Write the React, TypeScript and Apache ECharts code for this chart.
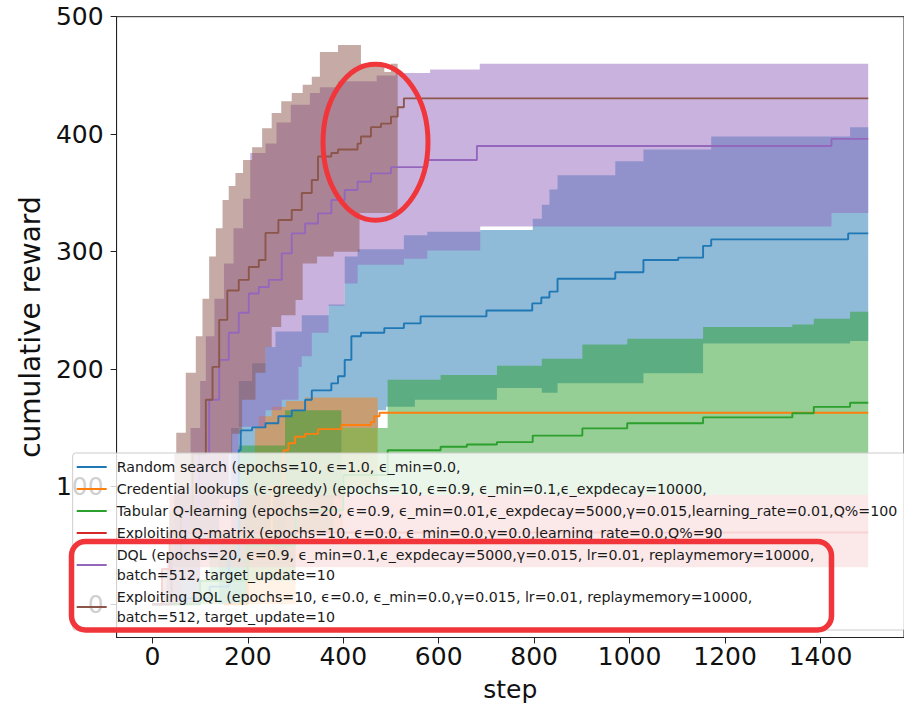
import React, { useEffect, useRef } from "react";
import * as echarts from "echarts";

// ---------- data ----------
const X_TICKS = [0, 200, 400, 600, 800, 1000, 1200, 1400];
const Y_TICKS = [0, 100, 200, 300, 400, 500];

const LABELS = [
  "Random search (epochs=10, ϵ=1.0, ϵ_min=0.0,",
  "Credential lookups (ϵ-greedy) (epochs=10, ϵ=0.9, ϵ_min=0.1,ϵ_expdecay=10000,",
  "Tabular Q-learning (epochs=20, ϵ=0.9, ϵ_min=0.01,ϵ_expdecay=5000,γ=0.015,learning_rate=0.01,Q%=100",
  "Exploiting Q-matrix (epochs=10, ϵ=0.0, ϵ_min=0.0,γ=0.0,learning_rate=0.0,Q%=90",
  "DQL (epochs=20, ϵ=0.9, ϵ_min=0.1,ϵ_expdecay=5000,γ=0.015, lr=0.01, replaymemory=10000,\nbatch=512, target_update=10",
  "Exploiting DQL (epochs=10, ϵ=0.0, ϵ_min=0.0,γ=0.015, lr=0.01, replaymemory=10000,\nbatch=512, target_update=10",
];

// Random search
const randomMean = [[0, 0], [60, 5], [120, 15], [160, 40], [181, 131], [185, 148], [209, 150.5], [237, 154], [264, 160], [292, 165], [320, 174], [334, 182], [375, 188], [389, 194], [403, 208], [417, 228], [437, 231], [486, 235], [527, 239], [562, 245], [700, 250], [796, 256], [815, 261], [832, 266], [849, 277], [970, 282.5], [1029, 293], [1102, 295], [1154, 305], [1171, 310.5], [1458, 315.6], [1500, 315.6]];
const randomUpper = [[140, 60], [165, 150], [181, 190], [209, 205], [237, 219], [258, 232], [313, 246], [369, 255], [403, 296], [430, 302], [527, 314], [576, 317], [687, 318.5], [797, 328], [816, 340], [832, 353], [849, 365], [970, 377], [1029, 387], [1171, 398], [1462, 406], [1500, 406]];
const randomLower = [[140, 0], [200, 40], [280, 90], [396, 150], [473, 165], [490, 168], [550, 174], [722, 184], [816, 180], [849, 188], [1029, 196.5], [1154, 222], [1462, 224], [1500, 224]];

// Credential lookups
const credMean = [[150, 0], [200, 40], [250, 100], [275, 131], [285, 137], [299, 142.5], [320, 145], [347, 149], [396, 152.5], [458, 155], [465, 160], [476, 163], [1500, 163]];
const credUpper = [[195, 120], [215, 150], [223, 160], [250, 168], [280, 173], [320, 176], [472, 177], [472, 177]];
const credLower = [[195, 0], [300, 60], [400, 100], [472, 100]];

// Tabular Q-learning
const tabMean = [[0, 0], [100, 20], [200, 50], [300, 80], [400, 110], [493, 131], [604, 134], [659, 136], [722, 138], [797, 143.5], [901, 149.7], [995, 154], [1154, 159], [1341, 162.5], [1386, 168], [1462, 171.5], [1500, 171.5]];
const tabUpper = [[60, 20], [120, 60], [181, 135], [278, 165], [396, 150], [493, 191], [604, 195], [722, 203], [816, 209], [901, 221], [995, 226], [1154, 236], [1341, 238], [1386, 243], [1462, 249], [1500, 249]];
const tabLower = [[60, 0], [200, 20], [300, 60], [380, 93], [1500, 93]];

// Exploiting Q-matrix
const qmatMean = [[0, 0], [20, 30], [36, 61], [1500, 61]];
const qmatUpper = [[36, 93], [1500, 93]];
const qmatLower = [[36, 31.5], [1500, 31.5]];

// DQL
const dqlMean = [[0, 0], [40, 40], [70, 80], [98, 128], [119, 174], [140, 208], [160, 231], [181, 248], [202, 264.5], [223, 270], [244, 276], [271, 298.6], [292, 315.6], [320, 324], [347, 332.6], [375, 344], [403, 352.5], [430, 359.6], [458, 366.7], [500, 372], [576, 378], [680, 390], [1423, 396], [1500, 396]];
const dqlUpper = [[30, 40], [46, 100], [80, 150], [100, 190], [112, 228], [130, 260], [150, 290], [170, 320], [190, 345], [205, 384], [237, 392], [260, 410], [290, 425], [330, 435], [351, 440], [389, 445], [470, 450], [510, 452], [582, 455], [686, 460], [1500, 460]];
const dqlLower = [[30, 0], [100, 40], [140, 90], [181, 151], [237, 165], [271, 174], [306, 202], [313, 211], [334, 231], [369, 254], [403, 273], [430, 289], [527, 294], [576, 301], [687, 321.5], [1423, 333], [1500, 333]];

// Exploiting DQL
const xdqlMean = [[0, 0], [40, 40], [60, 80], [84, 128], [112, 174], [126, 202], [140, 242], [157, 267], [181, 276], [202, 287], [223, 293], [237, 316], [264, 327], [292, 335.5], [313, 350], [334, 361], [347, 381], [375, 384], [389, 387], [430, 392], [437, 398], [458, 406], [479, 409], [500, 415], [514, 423], [527, 430.5], [1500, 430.5]];
const xdqlUpper = [[20, 30], [35, 80], [46, 128], [50, 146], [70, 197], [91, 228], [105, 260], [119, 296], [133, 320], [147, 344], [160, 356], [174, 367], [190, 378], [209, 389], [230, 405], [250, 418], [270, 428], [292, 435], [315, 442], [334, 449], [351, 470], [389, 476], [437, 460], [486, 453], [500, 460], [514, 460]];
const xdqlLower = [[20, 0], [60, 20], [100, 50], [140, 90], [160, 128], [167, 145], [188, 174], [216, 197], [237, 219], [250, 236], [270, 246], [300, 259], [315, 290], [345, 296], [380, 300], [434, 333], [514, 333]];

const COLORS = ["#1f77b4", "#ff7f0e", "#2ca02c", "#d62728", "#9467bd", "#8c564b"];
const MEANS = [randomMean, credMean, tabMean, qmatMean, dqlMean, xdqlMean];
const UPPERS = [randomUpper, credUpper, tabUpper, qmatUpper, dqlUpper, xdqlUpper];
const LOWERS = [randomLower, credLower, tabLower, qmatLower, dqlLower, xdqlLower];

const FONT = "DejaVu Sans";

function bandSeries(upper: number[][], lower: number[][], color: string, idx: number) {
  return {
    type: "custom",
    name: "band" + idx,
    coordinateSystem: "cartesian2d",
    silent: true,
    z: 2,
    clip: true,
    data: [[upper[0][0], lower[0][1], upper[0][1]]],
    encode: { x: 0, y: [1, 2] },
    renderItem: (_params: any, api: any) => {
      const pts: number[][] = [];
      for (let i = 0; i < upper.length - 1; i++) {
        pts.push(api.coord([upper[i][0], upper[i][1]]));
        pts.push(api.coord([upper[i + 1][0], upper[i][1]]));
      }
      for (let i = lower.length - 2; i >= 0; i--) {
        pts.push(api.coord([lower[i + 1][0], lower[i][1]]));
        pts.push(api.coord([lower[i][0], lower[i][1]]));
      }
      return {
        type: "polygon",
        shape: { points: pts },
        style: { fill: color, opacity: 0.5 },
      };
    },
  };
}

export default function App() {
  const ref = useRef<HTMLDivElement>(null);
  useEffect(() => {
    if (!ref.current) return;
    const chart = echarts.init(ref.current, null, { renderer: "svg" });
    const bands = COLORS.map((c, i) => bandSeries(UPPERS[i], LOWERS[i], c, i));
    const lines = COLORS.map((c, i) => ({
      type: "line",
      name: LABELS[i],
      data: MEANS[i],
      step: "end",
      showSymbol: false,
      symbol: "none",
      silent: true,
      z: 3,
      lineStyle: { width: 1.9, color: c },
      itemStyle: { color: c },
    }));
    chart.setOption({
      animation: false,
      backgroundColor: "#ffffff",
      grid: {
        show: true,
        left: 116.6,
        top: 16.7,
        right: -7.1,
        bottom: 70.5,
        borderColor: "#222",
        borderWidth: 1,
        backgroundColor: "transparent",
      },
      xAxis: {
        type: "value",
        min: -75,
        max: 1575,
        name: "step",
        nameLocation: "middle",
        nameGap: 39,
        nameTextStyle: { fontFamily: FONT, fontSize: 25, color: "#111" },
        axisLine: { show: true, onZero: false, lineStyle: { color: "#222", width: 1 } },
        axisTick: { show: true, length: 6, customValues: X_TICKS, lineStyle: { color: "#222" } },
        axisLabel: {
          customValues: X_TICKS,
          fontFamily: FONT,
          fontSize: 25,
          color: "#111",
          margin: 6,
          formatter: (v: number) => String(v),
        },
        splitLine: { show: false },
      },
      yAxis: {
        type: "value",
        min: -28.3,
        max: 500,
        name: "cumulative reward",
        nameLocation: "middle",
        nameGap: 72,
        nameRotate: 90,
        nameTextStyle: { fontFamily: FONT, fontSize: 28, color: "#111" },
        axisLine: { show: true, onZero: false, lineStyle: { color: "#222", width: 1 } },
        axisTick: { show: true, length: 6, customValues: Y_TICKS, lineStyle: { color: "#222" } },
        axisLabel: {
          customValues: Y_TICKS,
          fontFamily: FONT,
          fontSize: 25,
          color: "#111",
          margin: 13,
          formatter: (v: number) => String(v),
        },
        splitLine: { show: false },
      },
      legend: {
        data: LABELS,
        orient: "vertical",
        left: 72.7,
        top: 453,
        padding: [4, 8, 3, 4],
        itemGap: 2,
        itemWidth: 30,
        itemHeight: 2,
        icon: "rect",
        backgroundColor: "rgba(255,255,255,0.8)",
        borderColor: "#cccccc",
        borderWidth: 1,
        borderRadius: 3,
        selectedMode: false,
        textStyle: {
          fontFamily: FONT,
          fontSize: 14.2,
          lineHeight: 20,
          color: "#1a1a1a",
          padding: [0, 0, 0, 5],
        },
      },
      graphic: [
        {
          type: "ellipse",
          z: 100,
          shape: { cx: 375.5, cy: 142.3, rx: 52.5, ry: 78 },
          style: { fill: "transparent", stroke: "#f0363a", lineWidth: 5 },
        },
        {
          type: "rect",
          z: 100,
          shape: { x: 71.5, y: 541.5, width: 760, height: 88.5, r: 14 },
          style: { fill: "transparent", stroke: "#f0363a", lineWidth: 5.5 },
        },
      ],
      series: [...bands, ...lines],
    });
    return () => chart.dispose();
  }, []);
  return (
    <div
      ref={ref}
      style={{ position: "fixed", left: 0, top: 0, width: 904, height: 708, background: "#fff" }}
    />
  );
}
